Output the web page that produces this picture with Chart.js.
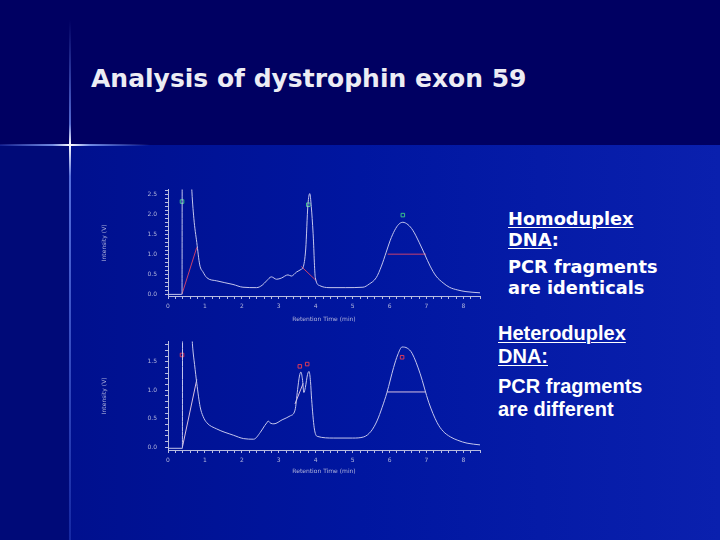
<!DOCTYPE html>
<html>
<head>
<meta charset="utf-8">
<script src="https://cdn.jsdelivr.net/npm/chart.js@4"></script>
<style>
  body { margin: 0; }
  #slide {
    position: relative; width: 720px; height: 540px; overflow: hidden;
    background: #000062;
    font-family: "DejaVu Sans", sans-serif;
  }
  #lower {
    position: absolute; left: 0; top: 145px; width: 720px; height: 395px;
    background: linear-gradient(to right, #000a78 0px, #000a78 68px, #00108e 72px, #0016a0 360px, #0a20ae 720px);
  }
  #vline {
    position: absolute; left: 69px; top: 20px; width: 2px; height: 520px;
    background: linear-gradient(to bottom, rgba(90,120,255,0) 0%, rgba(120,150,255,0.7) 20%, #ffffff 24%, rgba(120,150,255,0.7) 30%, rgba(60,90,220,0.35) 100%);
  }
  #hline {
    position: absolute; left: 0; top: 144px; width: 150px; height: 2px;
    background: linear-gradient(to right, rgba(90,120,255,0.2) 0%, rgba(140,170,255,0.8) 35%, #ffffff 47%, rgba(140,170,255,0.8) 60%, rgba(90,120,255,0) 100%);
  }
  #title {
    position: absolute; left: 91px; top: 64px; color: #ececf4;
    font: bold 25px "DejaVu Sans", sans-serif; white-space: nowrap;
  }
  .t { position: absolute; color: #ffffff; white-space: nowrap; }
  .b1 { left: 508px; font: bold 17.8px "DejaVu Sans", sans-serif; }
  .b2 { left: 498px; font: bold 20px "Liberation Sans", Arial, sans-serif; }
  u { text-decoration-thickness: 1px; text-underline-offset: 2px; }
  canvas { position: absolute; }
</style>
</head>
<body>
<div id="slide">
  <div id="lower"></div>
  <div id="vline"></div>
  <div id="hline"></div>
  <div id="title">Analysis of dystrophin exon 59</div>

  <div class="t b1" style="top:208px"><u>Homoduplex</u></div>
  <div class="t b1" style="top:229px"><u>DNA</u>:</div>
  <div class="t b1" style="top:256px">PCR fragments</div>
  <div class="t b1" style="top:277px">are identicals</div>

  <div class="t b2" style="top:322px"><u>Heteroduplex</u></div>
  <div class="t b2" style="top:345px"><u>DNA:</u></div>
  <div class="t b2" style="top:375px">PCR fragments</div>
  <div class="t b2" style="top:398px">are different</div>

  <canvas id="homo" width="390" height="145" style="left:95px;top:178px"></canvas>
  <canvas id="hetero" width="390" height="145" style="left:95px;top:330px"></canvas>
</div>
<script>
// homoduplex trace (min, V)
const homoTime = [0, 0.37, 0.38, 0.385, 0.62, 0.64, 0.70, 0.78, 0.86, 0.95, 1.05, 1.32, 1.76, 2.03, 2.40, 2.55, 2.67, 2.80, 2.94, 3.07, 3.25, 3.34, 3.48, 3.61, 3.66, 3.73, 3.79, 3.84, 3.88, 3.93, 3.99, 4.11, 4.36, 4.80, 5.28, 5.45, 5.64, 5.78, 5.91, 6.02, 6.14, 6.25, 6.36, 6.50, 6.63, 6.80, 6.95, 7.10, 7.26, 7.45, 7.62, 7.85, 8.07, 8.45];
const homoSignal = [-0.01, -0.01, -0.01, 3.2, 3.2, 2.7, 1.9, 1.29, 0.73, 0.55, 0.41, 0.33, 0.24, 0.17, 0.16, 0.22, 0.33, 0.43, 0.37, 0.40, 0.48, 0.45, 0.55, 0.62, 0.67, 1.13, 2.24, 2.52, 2.2, 1.52, 0.41, 0.21, 0.16, 0.16, 0.17, 0.25, 0.41, 0.70, 1.05, 1.35, 1.60, 1.75, 1.80, 1.74, 1.60, 1.30, 1.00, 0.70, 0.45, 0.28, 0.17, 0.10, 0.06, 0.03];
const homoMarkTime = [0.38, 3.80, 6.36];
const homoMarkValue = [2.32, 2.24, 1.98];
const homoBaseA = [[0.38, 0], [0.78, 1.17]];
const homoBaseB = [[3.61, 0.69], [4.02, 0.33]];
const homoHalf = [[5.95, 1.0], [6.99, 1.0]];

// heteroduplex trace (min, V)
const heteroTime = [0, 0.38, 0.39, 0.395, 0.60, 0.67, 0.72, 0.78, 0.87, 0.95, 1.05, 1.32, 1.77, 2.05, 2.32, 2.50, 2.62, 2.69, 2.71, 2.78, 2.87, 3.09, 3.31, 3.44, 3.51, 3.56, 3.60, 3.64, 3.68, 3.72, 3.78, 3.82, 3.86, 3.89, 3.96, 4.04, 4.49, 5.00, 5.30, 5.50, 5.66, 5.80, 5.93, 6.11, 6.22, 6.34, 6.48, 6.61, 6.83, 7.06, 7.29, 7.45, 7.65, 7.85, 8.10, 8.45];
const heteroSignal = [-0.02, -0.02, -0.02, 2.4, 2.4, 1.74, 1.45, 1.12, 0.71, 0.54, 0.43, 0.32, 0.21, 0.15, 0.14, 0.26, 0.38, 0.44, 0.46, 0.42, 0.41, 0.48, 0.55, 0.65, 1.01, 1.25, 1.32, 1.20, 0.96, 1.05, 1.28, 1.33, 1.15, 0.84, 0.34, 0.19, 0.16, 0.16, 0.18, 0.28, 0.46, 0.70, 0.96, 1.40, 1.62, 1.76, 1.74, 1.65, 1.29, 0.79, 0.43, 0.28, 0.18, 0.12, 0.07, 0.04];
const heteroMarkTime = [0.38, 3.57, 3.77, 6.34];
const heteroMarkValue = [1.62, 1.42, 1.46, 1.58];
const heteroBaseA = [[0.39, 0], [0.78, 1.19]];
const heteroBaseB = [[3.44, 0.76], [3.66, 1.12]];
const heteroHalf = [[5.93, 0.97], [6.97, 0.97]];

const traceColor = "#c4c6ec";
const axisColor = "#b8bce0";

function pairs(xs, ys) {
  return xs.map(function (x, i) { return { x: x, y: ys[i] }; });
}
function seg(p) {
  return p.map(function (q) { return { x: q[0], y: q[1] }; });
}
function isHalf(v) {
  return Math.abs(v * 2 - Math.round(v * 2)) < 1e-6;
}

function makeChart(id, trace, marks, markColor, bases, baseColor, ymax, padTop, xHeight) {
  const segs = bases.map(function (b) {
    return {
      type: "line", data: seg(b), borderColor: baseColor, borderWidth: 1,
      pointRadius: 0, tension: 0,
    };
  });
  return new Chart(document.getElementById(id), {
    data: {
      datasets: [
        {
          type: "line", data: trace, borderColor: traceColor, borderWidth: 1,
          pointRadius: 0, cubicInterpolationMode: "monotone",
        },
      ].concat(segs, [
        {
          type: "scatter", data: marks, pointStyle: "rect", pointRadius: 2.5,
          borderColor: markColor, backgroundColor: "rgba(0,0,0,0)", borderWidth: 1,
        },
      ]),
    },
    options: {
      responsive: false,
      animation: false,
      events: [],
      layout: { padding: { top: padTop, right: 5, left: 0, bottom: 0 } },
      plugins: { legend: { display: false }, tooltip: { enabled: false } },
      scales: {
        x: {
          type: "linear", min: 0, max: 8.45,
          afterFit: function (s) { s.height = xHeight; },
          border: { color: axisColor },
          grid: { drawOnChartArea: false, tickLength: 3, tickColor: axisColor },
          ticks: {
            stepSize: 0.2, autoSkip: false, maxRotation: 0, padding: 4,
            color: "#b0b4dc", font: { size: 6, family: "DejaVu Sans" },
            callback: function (v) { return Math.abs(v - Math.round(v)) < 1e-6 ? String(Math.round(v)) : ""; },
          },
          title: {
            display: true, text: "Retention Time (min)", color: "#b0b4dc",
            font: { size: 6, family: "DejaVu Sans" }, padding: { top: 2, bottom: 0 },
          },
        },
        y: {
          min: -0.05, max: ymax,
          afterFit: function (s) { s.width = 73; },
          border: { color: axisColor },
          grid: { drawOnChartArea: false, tickLength: 3, tickColor: axisColor },
          ticks: {
            stepSize: 0.1, autoSkip: false, includeBounds: false, padding: 8,
            color: "#b0b4dc", font: { size: 6, family: "DejaVu Sans" },
            callback: function (v) { return isHalf(v) ? v.toFixed(1) : ""; },
          },
          title: {
            display: true, text: "Intensity (V)", color: "#b0b4dc",
            font: { size: 6, family: "DejaVu Sans" }, padding: { top: 6, bottom: 0 },
          },
        },
      },
    },
  });
}

makeChart("homo", pairs(homoTime, homoSignal), pairs(homoMarkTime, homoMarkValue), "#3cc08a",
  [homoBaseA, homoBaseB, homoHalf], "#c8406e", 2.62, 7, 27);
makeChart("hetero", pairs(heteroTime, heteroSignal), pairs(heteroMarkTime, heteroMarkValue), "#d83a5a",
  [heteroBaseA, heteroBaseB, heteroHalf], "#d8c0e0", 1.855, 6, 25);
</script>
</body>
</html>
